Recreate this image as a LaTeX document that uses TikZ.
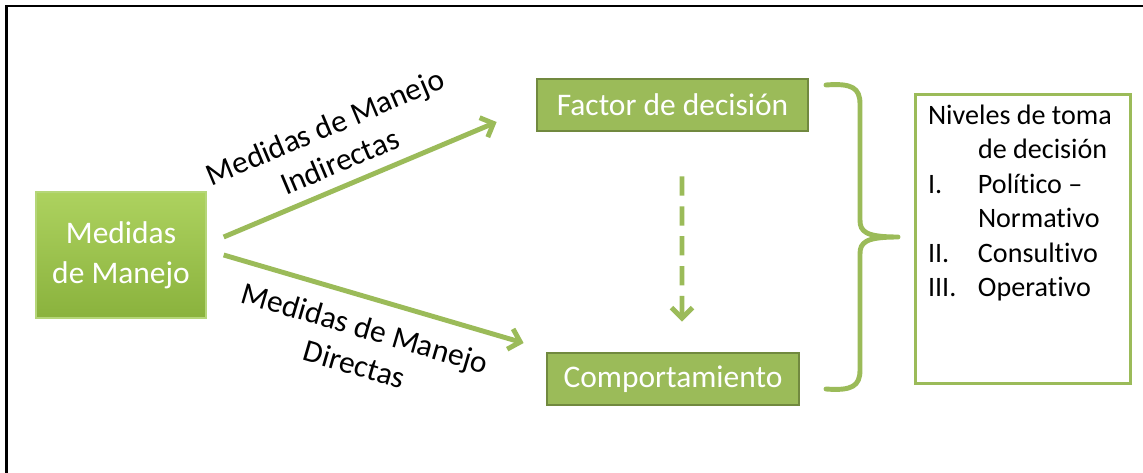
\documentclass[tikz,border=0pt]{standalone}
\usepackage{fontspec}
\setmainfont{Carlito}[Ligatures={TeX,NoCommon}]
\usetikzlibrary{calc,arrows.meta}
\definecolor{leaf}{HTML}{9BBB59}
\definecolor{leafdk}{HTML}{71893F}
\definecolor{leaftop}{HTML}{ADD25F}
\definecolor{leafbot}{HTML}{8AB23D}
\definecolor{leafln}{HTML}{B5D679}
\tikzset{
  frame/.style={draw=black, line width=1.6pt},
  gbox/.style={draw=leafdk, fill=leaf, line width=1.6pt, text=white, inner sep=0pt,
    font=\fontsize{17.9}{22.7}\selectfont},
  mbox/.style={draw=leafln, top color=leaftop, bottom color=leafbot, line width=0.8pt,
    text=white, align=center, inner sep=0pt, font=\fontsize{17.9}{22.7}\selectfont},
  lbox/.style={draw=leaf, fill=white, line width=1.7pt, inner xsep=0.26cm, inner ysep=0.22cm,
    font=\fontsize{16}{19.6}\selectfont},
  conn/.style={draw=leaf, line width=2.8pt, -{Straight Barb[length=6pt,width=12pt]}},
  dconn/.style={conn, dash pattern=on 11pt off 6pt},
  brc/.style={draw=leaf, line width=2.8pt, line cap=round, line join=round},
  lab/.style={text=black, align=center, font=\fontsize{17.9}{21.5}\selectfont},
}

\begin{document}
\begin{tikzpicture}[x=0.02cm, y=-0.02cm]
  \useasboundingbox (0,0) rectangle (1143,473);
  \draw[frame] (6.5,473) -- (6.5,6) -- (1143,6);

  \node[mbox, minimum width=3.4cm, minimum height=2.52cm] (med) at (121,255) {Medidas\\de Manejo};
  \node[gbox, minimum width=5.42cm, minimum height=1.04cm] (fac) at (672.5,105) {Factor de decisión};
  \node[gbox, minimum width=5.04cm, minimum height=1.04cm] (comp) at (673,379) {Comportamiento};
  \node[lbox] (niv) at (1023,239) {\parbox[t][5.36cm][t]{3.8cm}{\raggedright
    Niveles de toma\\
    \hspace*{1cm}de decisión\\
    \makebox[1cm][l]{I.}Político –\\
    \hspace*{1cm}Normativo\\
    \makebox[1cm][l]{II.}Consultivo\\
    \makebox[1cm][l]{III.}Operativo}};

  \draw[conn] ($(med.east)+(17,-18)$) -- node[lab, sloped, pos=0.46, above=3pt] {Medidas de Manejo\\Indirectas} ($(fac.west)+(-39,17)$);
  \draw[conn] ($(med.east)+(17,0)$) -- node[lab, sloped, pos=0.5, below=6pt] {Medidas de Manejo\\Directas} ($(comp.west)+(-22,-36)$);
  \draw[dconn] ($(fac.south)+(9.5,44)$) -- ($(comp.north)+(9,-30)$);

  \draw[brc] (826,85) .. controls (852,83) and (860,88) .. (860,104) -- (860,220)
    .. controls (860,232) and (866,237) .. (898,237)
    .. controls (866,237) and (860,242) .. (860,254) -- (860,370)
    .. controls (860,386) and (852,391) .. (826,389);
\end{tikzpicture}
\end{document}
